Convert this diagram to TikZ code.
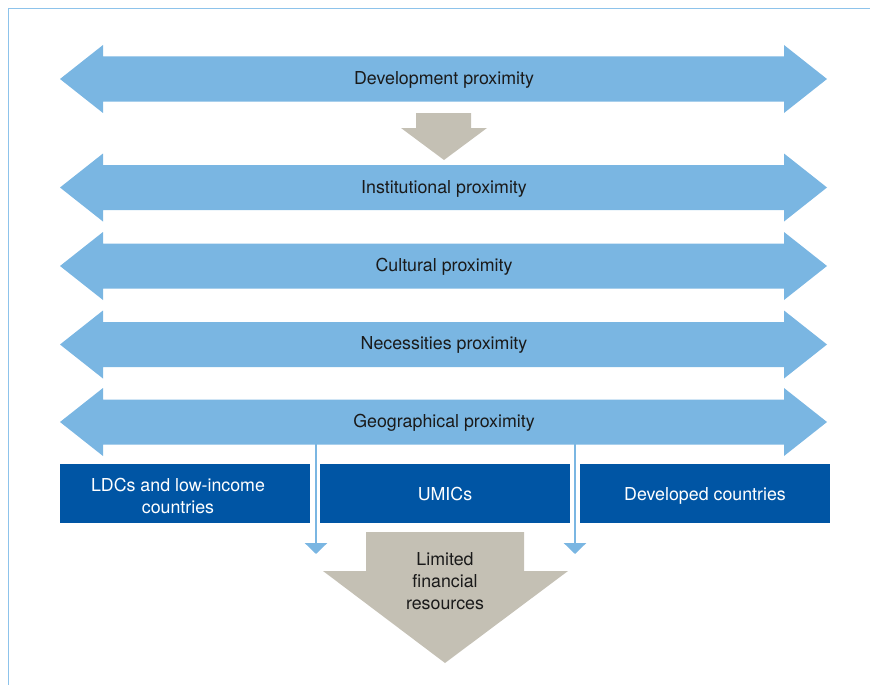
\documentclass[tikz,border=0pt]{standalone}
\usepackage{fontspec}
\setmainfont{TeX Gyre Heros}
\usetikzlibrary{arrows.meta}
\definecolor{lblue}{RGB}{122,182,226}
\definecolor{dblue}{RGB}{0,85,164}
\definecolor{tgray}{RGB}{196,192,180}
\definecolor{framec}{RGB}{141,195,235}
\definecolor{txt}{RGB}{26,26,26}
\tikzset{
  lbl/.style={font=\fontsize{17.8}{22.2}\selectfont, text=txt, inner sep=0pt, align=center},
  boxlbl/.style={font=\fontsize{17.8}{22}\selectfont, text=white, inner sep=0pt, align=center},
  country/.style={fill=dblue, draw=none},
  thinarrow/.style={draw=lblue, line width=2.6pt, -{Triangle[width=22pt,length=11pt]}},
}
\begin{document}
\begin{tikzpicture}[x=1pt,y=-1pt]
\useasboundingbox (0,0) rectangle (870,685);
% frame
\draw[framec, line width=1.3pt] (8.5,685) -- (8.5,8.5) -- (870,8.5);
% double arrows
\foreach \c in {79,187.5,266,344.5,422}{
  \fill[lblue] (60,\c) -- (103,\c-34) -- (103,\c-22.5) -- (784,\c-22.5) -- (784,\c-34)
     -- (827,\c) -- (784,\c+34) -- (784,\c+22.5) -- (103,\c+22.5) -- (103,\c+34) -- cycle;
}
\node[lbl, anchor=base] (dev) at (444,84.5) {Development proximity};
\node[lbl, anchor=base] (inst) at (444,193) {Institutional proximity};
\node[lbl, anchor=base] (cult) at (444,271.5) {Cultural proximity};
\node[lbl, anchor=base] (nec) at (444,349.5) {Necessities proximity};
\node[lbl, anchor=base] (geo) at (444,427) {Geographical proximity};
% small gray arrow
\fill[tgray] (416,113) -- (471,113) -- (471,128) -- (487,128) -- (444,160) -- (401,128) -- (416,128) -- cycle;
% country boxes
\fill[country] (60,464) rectangle (310,523);
\fill[country] (320,464) rectangle (570,523);
\fill[country] (580,464) rectangle (830,523);
\node[boxlbl] (ldc) at (178,495.5) {LDCs and low-income\\countries};
\node[boxlbl, anchor=base] (umic) at (445,500) {UMICs};
\node[boxlbl, anchor=base] (devd) at (705,500) {Developed countries};
% bottom gray arrow
\fill[tgray] (366,532) -- (524,532) -- (524,571) -- (568,571) -- (445,663) -- (323,571) -- (366,571) -- cycle;
\node[lbl] (lim) at (445,581) {Limited\\financial\\resources};
% thin arrows
\coordinate (ls) at (316,444);
\coordinate (le) at (316,554);
\coordinate (rs) at (575,444);
\coordinate (re) at (575,554);
\draw[thinarrow] (ls) -- (le);
\draw[thinarrow] (rs) -- (re);
\end{tikzpicture}
\end{document}
